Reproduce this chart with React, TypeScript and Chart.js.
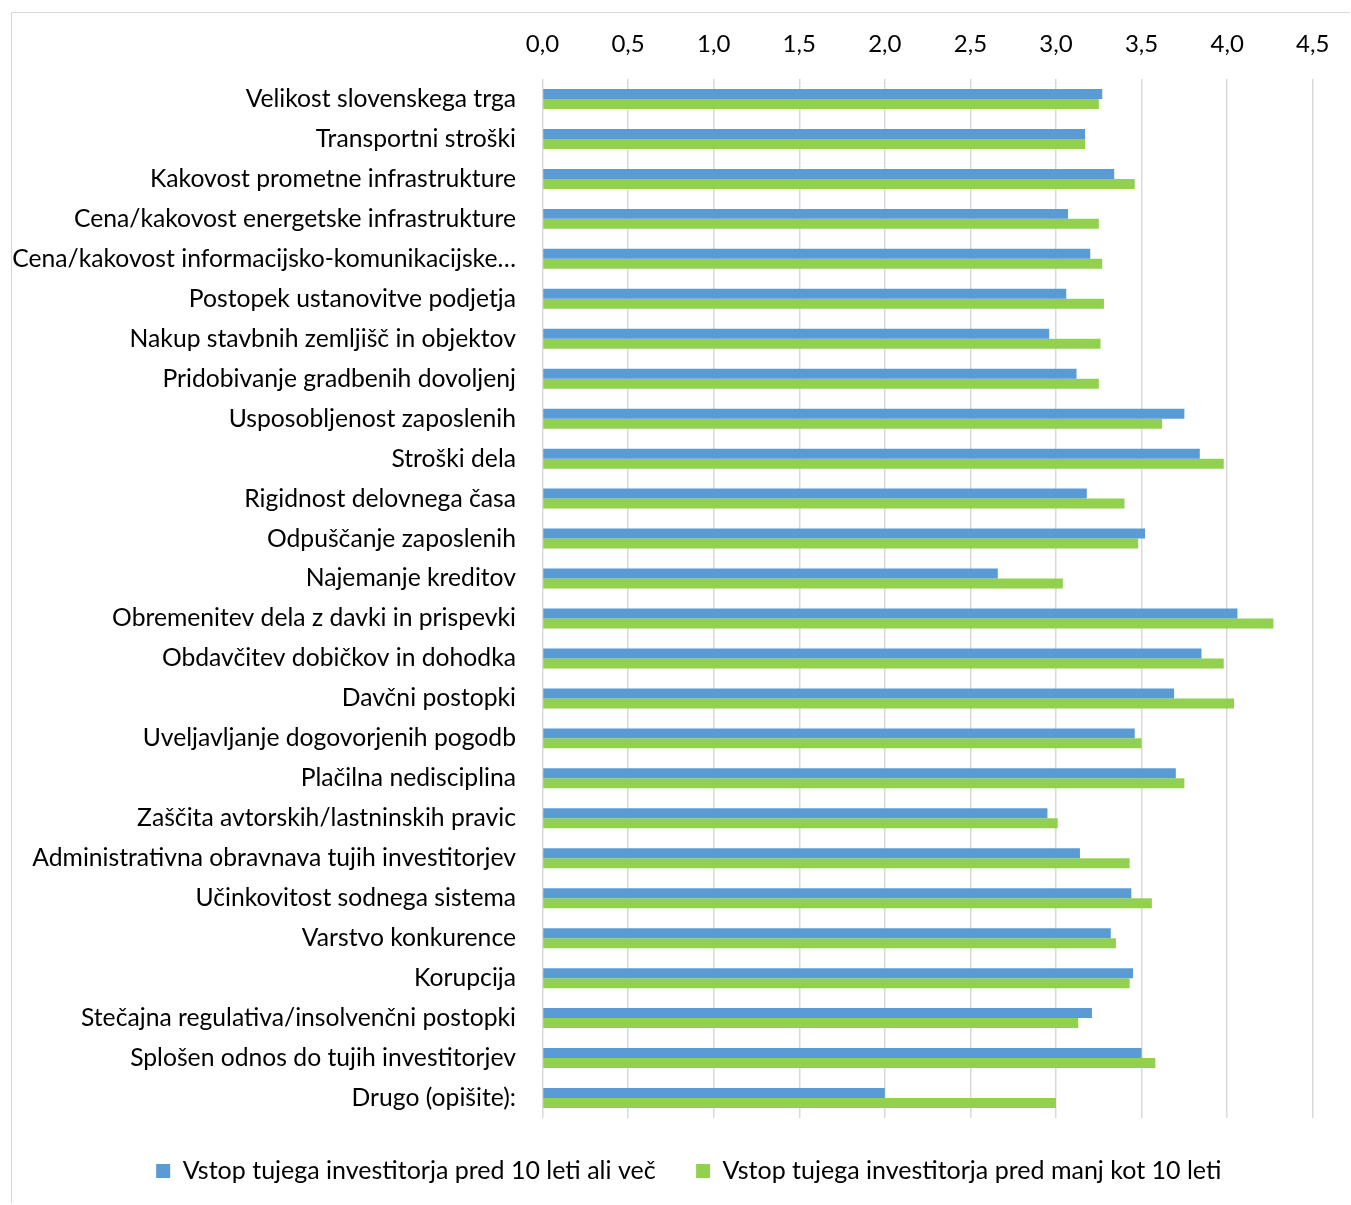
import React, { useEffect, useRef } from "react";
import { Chart, registerables } from "chart.js";

Chart.register(...registerables);

const categories = [
  "Velikost slovenskega trga",
  "Transportni stroški",
  "Kakovost prometne infrastrukture",
  "Cena/kakovost energetske infrastrukture",
  "Cena/kakovost informacijsko-komunikacijske…",
  "Postopek ustanovitve podjetja",
  "Nakup stavbnih zemljišč in objektov",
  "Pridobivanje gradbenih dovoljenj",
  "Usposobljenost zaposlenih",
  "Stroški dela",
  "Rigidnost delovnega časa",
  "Odpuščanje zaposlenih",
  "Najemanje kreditov",
  "Obremenitev dela z davki in prispevki",
  "Obdavčitev dobičkov in dohodka",
  "Davčni postopki",
  "Uveljavljanje dogovorjenih pogodb",
  "Plačilna nedisciplina",
  "Zaščita avtorskih/lastninskih pravic",
  "Administrativna obravnava tujih investitorjev",
  "Učinkovitost sodnega sistema",
  "Varstvo konkurence",
  "Korupcija",
  "Stečajna regulativa/insolvenčni postopki",
  "Splošen odnos do tujih investitorjev",
  "Drugo (opišite):",
];

const seriesNames = [
  "Vstop tujega investitorja pred 10 leti ali več",
  "Vstop tujega investitorja pred manj kot 10 leti",
];

const olderEntry = [
  3.27, 3.17, 3.34, 3.07, 3.2, 3.06, 2.96, 3.12, 3.75, 3.84, 3.18, 3.52, 2.66,
  4.06, 3.85, 3.69, 3.46, 3.7, 2.95, 3.14, 3.44, 3.32, 3.45, 3.21, 3.5, 2.0,
];

const newerEntry = [
  3.25, 3.17, 3.46, 3.25, 3.27, 3.28, 3.26, 3.25, 3.62, 3.98, 3.4, 3.48, 3.04,
  4.27, 3.98, 4.04, 3.5, 3.75, 3.01, 3.43, 3.56, 3.35, 3.43, 3.13, 3.58, 3.0,
];

const axisMin = 0;
const axisMax = 4.5;
const axisStep = 0.5;

const FONT = "Lato, 'Noto Sans', sans-serif";

const legendShift = {
  id: "legendShift",
  afterLayout(chart: any) {
    const lg = chart.legend;
    if (lg) {
      lg.left += 26;
      lg.right += 26;
    }
  },
};

export default function App() {
  const ref = useRef<HTMLCanvasElement | null>(null);

  useEffect(() => {
    if (!ref.current) return;
    const chart = new Chart(ref.current, {
      type: "bar",
      data: {
        labels: categories,
        datasets: [
          {
            label: seriesNames[0],
            data: olderEntry,
            backgroundColor: "#5B9BD5",
            borderWidth: 0,
            barPercentage: 1,
            categoryPercentage: 0.5,
          },
          {
            label: seriesNames[1],
            data: newerEntry,
            backgroundColor: "#92D050",
            borderWidth: 0,
            barPercentage: 1,
            categoryPercentage: 0.5,
          },
        ],
      },
      plugins: [legendShift],
      options: {
        indexAxis: "y",
        responsive: false,
        animation: false,
        layout: { padding: { left: 0, right: 36.5, top: 0, bottom: 9.5 } },
        plugins: {
          tooltip: { enabled: false },
          legend: {
            position: "bottom",
            labels: {
              color: "#000",
              font: { family: FONT, size: 25 },
              boxWidth: 14,
              boxHeight: 14,
              padding: 40.5,
            },
          },
        },
        scales: {
          x: {
            position: "top",
            min: axisMin,
            max: axisMax,
            border: { display: false },
            grid: { color: "#d9d9d9", lineWidth: 1.5, drawTicks: false },
            ticks: {
              stepSize: axisStep,
              color: "#000",
              padding: 20.6,
              font: { family: FONT, size: 24 },
              callback: (v: any) => Number(v).toFixed(1).replace(".", ","),
            },
            afterFit: (scale: any) => {
              scale.height = 66;
            },
          },
          y: {
            border: { display: false },
            grid: { display: false, drawTicks: false },
            ticks: {
              autoSkip: false,
              color: "#000",
              padding: 26.5,
              font: { family: FONT, size: 24.7 },
            },
            afterFit: (scale: any) => {
              scale.width = 530.5;
            },
          },
        },
      },
    });
    return () => chart.destroy();
  }, []);

  return (
    <div
      style={{
        position: "absolute",
        left: 11,
        top: 12,
        width: 1338,
        height: 1190,
        borderLeft: "1px solid #d9d9d9",
        borderTop: "1px solid #d9d9d9",
        background: "#fff",
      }}
    >
      <canvas ref={ref} width={1338} height={1190} style={{ display: "block" }} />
    </div>
  );
}
